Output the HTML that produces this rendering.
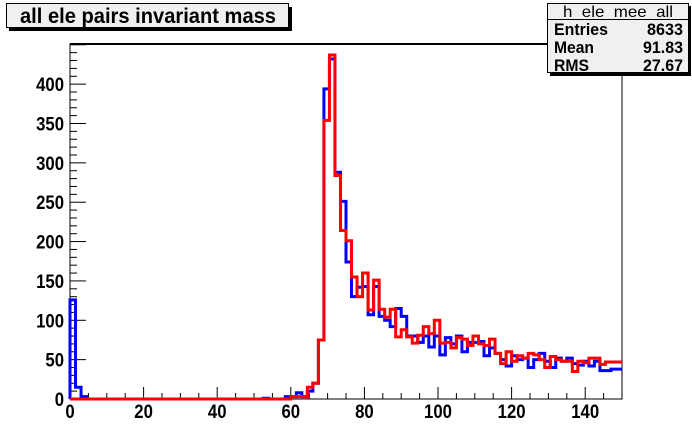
<!DOCTYPE html>
<html><head><meta charset="utf-8"><style>
html,body{margin:0;padding:0;background:#fff;}
svg{display:block;font-family:"Liberation Sans",Arial,sans-serif;font-weight:bold;}
</style></head><body>
<svg id="chart" width="692" height="444" viewBox="0 0 692 444">
  <rect x="9" y="7" width="283" height="24" fill="#000"/>
  <rect x="6.5" y="3.5" width="282" height="24" fill="#f0f0f0" stroke="#000" stroke-width="1"/>
  <text x="20" y="23" font-size="21" textLength="256" lengthAdjust="spacingAndGlyphs">all ele pairs invariant mass</text>

  <rect x="70" y="44" width="552" height="355" fill="#fff" stroke="#000" stroke-width="1"/>
  <line x1="70" y1="44" x2="622" y2="44" stroke="#000" stroke-width="2"/>
  <g id="axes"></g>
  <g id="series"></g>

  <rect x="550" y="6" width="141" height="70" fill="#000"/>
  <rect x="547.5" y="3.5" width="141" height="69" fill="#f0f0f0" stroke="#000" stroke-width="1"/>
  <line x1="547.5" y1="19.5" x2="688.5" y2="19.5" stroke="#000" stroke-width="1"/>
  <text x="618" y="17" font-size="16" text-anchor="middle" font-weight="normal" textLength="110" lengthAdjust="spacingAndGlyphs">h_ele_mee_all</text>
  <text x="554" y="35" font-size="17" textLength="54" lengthAdjust="spacingAndGlyphs">Entries</text>
  <text x="683" y="35" font-size="17" text-anchor="end" textLength="36" lengthAdjust="spacingAndGlyphs">8633</text>
  <text x="554" y="53" font-size="17" textLength="40" lengthAdjust="spacingAndGlyphs">Mean</text>
  <text x="683" y="53" font-size="17" text-anchor="end" textLength="40" lengthAdjust="spacingAndGlyphs">91.83</text>
  <text x="554" y="71" font-size="17" textLength="35" lengthAdjust="spacingAndGlyphs">RMS</text>
  <text x="683" y="71" font-size="17" text-anchor="end" textLength="40" lengthAdjust="spacingAndGlyphs">27.67</text>
</svg>
<script>
const binWidth = 1.5;
const xTickLabels = [0,20,40,60,80,100,120,140];
const yTickLabels = [0,50,100,150,200,250,300,350,400];
const blueValues = [126,15,3,0,0,0,0,0,0,0, 0,0,0,0,0,0,0,0,0,0, 0,0,0,0,0,0,0,0,0,0, 0,0,0,0,0,1,0,0,0,3,
 3,8,3,10,20,75,394,432,288,251, 174,130,142,143,107,143,105,100,92,115, 105,80,80,72,80,66,80,56,
 78,70,80,60,72,72,73,55,65,58, 50,42,55,50,52,40,50,58,48,40, 52,48,52,45,43,48,42,48,36,36, 38,38];
const redValues = [0,0,0,0,0,0,0,0,0,0, 0,0,0,0,0,0,0,0,0,0, 0,0,0,0,0,0,0,0,0,0, 0,0,0,0,0,0,0,0,0,0,
 3,3,3,15,20,75,354,437,284,214, 201,155,130,160,113,151,114,104,114,79, 88,79,71,81,92,83,100,71,
 72,65,78,76,68,80,70,68,76,58, 45,60,48,55,52,58,56,50,40,54, 50,48,48,35,48,46,52,52,44,47, 47,47];

const NS = "http://www.w3.org/2000/svg";
const X0 = 70, X1 = 622, Y0 = 399, Y1 = 44, XMAX = 150, YMAX = 451;
function sx(v){ return X0 + (X1 - X0) * v / XMAX; }
function sy(v){ return Y0 - (Y0 - Y1) * v / YMAX; }
const axes = document.getElementById('axes');
const series = document.getElementById('series');
function mk(tag, attrs, parent){ const e = document.createElementNS(NS, tag); for (const k in attrs) e.setAttribute(k, attrs[k]); parent.appendChild(e); return e; }

for (let v = 0; v <= 450; v += 10) {
  const major = v % 50 === 0;
  const t = mk('line', {x1: X0, x2: X0 + (major ? 16 : 7), y1: sy(v), y2: sy(v), stroke: '#000', 'stroke-width': 1}, axes);
  
  
}
yTickLabels.forEach(v => {
  const s = String(v);
  const t = mk('text', {x: 64, y: sy(v) + 7, 'font-size': 19, 'text-anchor': 'end', textLength: 9.3 * s.length, lengthAdjust: 'spacingAndGlyphs'}, axes);
  t.textContent = s;
  
  
});
for (let v = 0; v <= 150; v += 5) {
  const major = v % 20 === 0;
  const t = mk('line', {x1: sx(v), x2: sx(v), y1: Y0, y2: Y0 - (major ? 12 : 6), stroke: '#000', 'stroke-width': 1}, axes);
  
  
}
xTickLabels.forEach(v => {
  const s = String(v);
  const t = mk('text', {x: sx(v), y: 418, 'font-size': 19, 'text-anchor': 'middle', textLength: 9.3 * s.length, lengthAdjust: 'spacingAndGlyphs'}, axes);
  t.textContent = s;
  
  
});

function stepPath(vals){
  let d = 'M' + sx(0) + ',' + sy(0);
  vals.forEach((v, i) => {
    d += ' L' + sx(i * binWidth) + ',' + sy(v) + ' L' + sx((i + 1) * binWidth) + ',' + sy(v);
  });
  return d;
}
const pb = mk('path', {d: stepPath(blueValues), fill: 'none', stroke: '#0000ff', 'stroke-width': 3, 'stroke-linejoin': 'miter'}, series);


const pr = mk('path', {d: stepPath(redValues), fill: 'none', stroke: '#ff0000', 'stroke-width': 3, 'stroke-linejoin': 'miter'}, series);


</script>
</body></html>
